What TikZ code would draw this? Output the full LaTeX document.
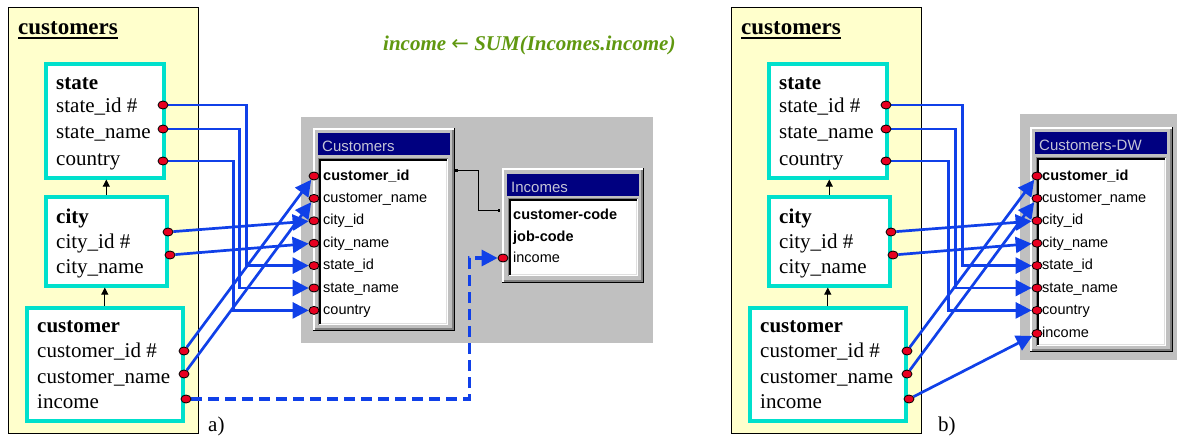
\documentclass[tikz,border=0pt]{standalone}
\usepackage{fontspec}
\setmainfont{Liberation Serif}
\newfontfamily\winfont{Liberation Sans}
\newfontfamily\arrowfont{DejaVu Sans}
\usetikzlibrary{arrows.meta,shapes.geometric}

\definecolor{paneyellow}{RGB}{255,255,204}
\definecolor{boxcyan}{RGB}{0,224,204}
\definecolor{linkblue}{RGB}{16,64,232}
\definecolor{dotred}{RGB}{232,0,32}
\definecolor{wingray}{RGB}{192,192,192}
\definecolor{windark}{RGB}{128,128,128}
\definecolor{winlight}{RGB}{223,223,223}
\definecolor{winnavy}{RGB}{0,0,128}
\definecolor{wintitle}{RGB}{196,196,214}
\definecolor{formgreen}{RGB}{96,152,16}

\pgfdeclarelayer{front}
\pgfsetlayers{main,front}

\tikzset{
  pane/.style={fill=paneyellow, draw=black, line width=0.8pt},
  entity/.style={draw=boxcyan, fill=white, line width=3.6pt, inner sep=0pt, anchor=north west},
  attr/.style={anchor=base west, inner sep=0pt, font=\fontsize{21}{25}\selectfont},
  ename/.style={anchor=base west, inner sep=0pt, font=\fontsize{21}{25}\selectfont\bfseries},
  port/.style={ellipse, draw=black, line width=0.8pt, fill=dotred,
               minimum width=10pt, minimum height=8pt, inner sep=0pt},
  link/.style={draw=linkblue, line width=2.7pt, -{Triangle[length=16pt,width=16pt]}},
  dashlink/.style={link, line width=3.2pt, dash pattern=on 11pt off 6pt},
  isa/.style={draw=black, line width=1pt, -{Triangle[length=7pt,width=7pt]}},
  rowtxt/.style={anchor=base west, inner sep=0pt, font=\winfont\fontsize{14.5}{17}\selectfont},
  relline/.style={draw=black, line width=1pt,
                  {Square[length=2.5pt,width=3pt]}-{Square[length=2.5pt,width=3pt]}},
}

% one "customers" package: the three entities with their attribute ports
\newcommand\custpanel[2]{%
\begin{scope}[xshift=#2]
  \path[pane] (8,7) rectangle (198,433);
  \node[anchor=base west, inner sep=0pt, font=\fontsize{23}{27}\selectfont\bfseries] (#1head) at (18,34.5) {customers};
  \draw[line width=2pt] ([yshift=-3.6pt]#1head.base west) -- ([yshift=-3.6pt]#1head.base east);
  \node[entity, minimum width=118pt, minimum height=114pt] (#1state) at (44,62) {};
  \node[entity, minimum width=121pt, minimum height=89pt] (#1city) at (44,195) {};
  \node[entity, minimum width=156pt, minimum height=113pt] (#1cust) at (25,306) {};
  \node[ename] at (56,90) {state};
  \node[attr] at (56,113) {state\_id \#};
  \node[attr] at (56,139) {state\_name};
  \node[attr] at (56,165) {country};
  \node[ename] at (56,223) {city};
  \node[attr] at (56,248) {city\_id \#};
  \node[attr] at (56,273) {city\_name};
  \node[ename] at (37,332) {customer};
  \node[attr] at (37,357) {customer\_id \#};
  \node[attr] at (37,383) {customer\_name};
  \node[attr] at (37,408) {income};
  \draw[isa] (#1city.north) -- (#1city.north |- #1state.south);
  \draw[isa] (#1cust.north) -- (#1cust.north |- #1city.south);
  \begin{pgfonlayer}{front}
    \node[port] (#1sid)    at (163,105) {};
    \node[port] (#1sname)  at (163,129) {};
    \node[port] (#1cty)    at (163,161) {};
    \node[port] (#1cid)    at (168,232) {};
    \node[port] (#1cname)  at (170,255) {};
    \node[port] (#1cuid)   at (184,351) {};
    \node[port] (#1cuname) at (184,374) {};
    \node[port] (#1inc)    at (186,399) {};
  \end{pgfonlayer}
\end{scope}}

% raised Windows-style frame, named as a node
\newcommand\winraised[5]{%
  \node[inner sep=0pt, outer sep=0pt, minimum width={#4-#2}, minimum height={#5-#3},
        anchor=north west, fill=wingray] (#1) at (#2,#3) {};
  \draw[white, line width=1.5pt] ({#2+0.75},{#5-1}) -- ({#2+0.75},{#3+0.75}) -- ({#4-1},{#3+0.75});
  \draw[black, line width=1.5pt] ({#2},{#5-0.75}) -- ({#4-0.75},{#5-0.75}) -- ({#4-0.75},{#3});
  \draw[windark, line width=1.5pt] ({#2+1.5},{#5-2.25}) -- ({#4-2.25},{#5-2.25}) -- ({#4-2.25},{#3+1.5});
}
% sunken white list area
\newcommand\winsunken[4]{%
  \fill[white] (#1,#2) rectangle (#3,#4);
  \draw[windark, line width=1pt] ({#1+0.5},{#4}) -- ({#1+0.5},{#2+0.5}) -- ({#3},{#2+0.5});
  \draw[black, line width=1.5pt] ({#1+1.75},{#4-1}) -- ({#1+1.75},{#2+1.75}) -- ({#3-1},{#2+1.75});
  \draw[winlight, line width=1.5pt] ({#1+2.5},{#4-1.75}) -- ({#3-1.75},{#4-1.75}) -- ({#3-1.75},{#2+2.5});
}
% navy caption bar
\newcommand\wincaption[6]{%
  \fill[winnavy] (#2,#3) rectangle (#4,#5);
  \node[rowtxt, text=wintitle, font=\winfont\fontsize{15}{18}\selectfont] (#1) at ({#2+4},{#5-3.5}) {#6};
}
% one table row: port, text
\newcommand\tblrow[5]{%
  \node[rowtxt] (#1t) at (#4,{#3+4}) {#5};
  \begin{pgfonlayer}{front}\node[port] (#1) at (#2,#3) {};\end{pgfonlayer}%
}

\begin{document}
\begin{tikzpicture}[x=1pt,y=-1pt]
\useasboundingbox (0,0) rectangle (1179,436);

\custpanel{a}{0pt}
\custpanel{b}{723pt}
\node[attr] (alabel) at (208,431) {a)};
\node[attr] (blabel) at (938,431) {b)};

\node[anchor=base west, inner sep=0pt, text=formgreen,
      font=\fontsize{21}{25}\selectfont\bfseries\itshape] (formula) at (383,51)
      {income {\arrowfont\mdseries\upshape ←} SUM(Incomes.income)};

% ---- source schema: Customers and Incomes
\fill[wingray] (301,117) rectangle (653,343);
\winraised{custwin}{313}{128}{455}{331}
\wincaption{custcap}{318}{133}{450}{155}{Customers}
\winsunken{318}{158}{448}{325}
\tblrow{Tcuid}{314}{176}{323}{\bfseries customer\_id}
\tblrow{Tcuname}{314}{198.4}{323}{customer\_name}
\tblrow{Tcid}{314}{220.8}{323}{city\_id}
\tblrow{Tcname}{314}{243.2}{323}{city\_name}
\tblrow{Tsid}{314}{265.6}{323}{state\_id}
\tblrow{Tsname}{314}{288}{323}{state\_name}
\tblrow{Tcty}{314}{310.4}{323}{country}

\winraised{incwin}{502}{168}{644}{283}
\wincaption{inccap}{507}{174}{639}{196}{Incomes}
\winsunken{508}{198}{638}{276}
\node[rowtxt, font=\winfont\fontsize{14.5}{17}\selectfont\bfseries] (Iccode) at (513,219) {customer-code};
\node[rowtxt, font=\winfont\fontsize{14.5}{17}\selectfont\bfseries] (Ijcode) at (513,241) {job-code};
\tblrow{Iinc}{503}{258}{513}{income}

\draw[relline] ([yshift=-42pt]custwin.north east) -- ++(23,0) |- ([xshift=-2pt,yshift=-42pt]incwin.north west);

% ---- warehouse table
\fill[wingray] (1020,114) rectangle (1177,360);
\winraised{dwwin}{1030}{127}{1173}{352}
\wincaption{dwcap}{1035}{132}{1167}{154}{Customers-DW}
\winsunken{1036}{157}{1166}{346}
\tblrow{Dcuid}{1037}{176}{1042}{\bfseries customer\_id}
\tblrow{Dcuname}{1037}{198.4}{1042}{customer\_name}
\tblrow{Dcid}{1037}{220.8}{1042}{city\_id}
\tblrow{Dcname}{1037}{243.2}{1042}{city\_name}
\tblrow{Dsid}{1037}{265.6}{1042}{state\_id}
\tblrow{Dsname}{1037}{288}{1042}{state\_name}
\tblrow{Dcty}{1037}{310.4}{1042}{country}
\tblrow{Dinc}{1037}{333.5}{1042}{income}

% ---- mappings a)
\draw[link] (asid.east)   -- ++(78,0) |- (Tsid.west);
\draw[link] (asname.east) -- ++(71,0) |- (Tsname.west);
\draw[link] (acty.east)   -- ++(65,0) |- (Tcty.west);
\draw[link] (acid) -- (Tcid);
\draw[link] (acname) -- (Tcname);
\draw[link] (acuid) -- (Tcuid);
\draw[link] (acuname) -- (Tcuname);
\draw[dashlink] (ainc.east) -- ++(278,0) |- (Iinc.west);

% ---- mappings b)
\draw[link] (bsid.east)   -- ++(71,0) |- (Dsid.west);
\draw[link] (bsname.east) -- ++(64,0) |- (Dsname.west);
\draw[link] (bcty.east)   -- ++(57,0) |- (Dcty.west);
\draw[link] (bcid) -- (Dcid);
\draw[link] (bcname) -- (Dcname);
\draw[link] (bcuid) -- (Dcuid);
\draw[link] (bcuname) -- (Dcuname);
\draw[link] (binc) -- (Dinc);
\end{tikzpicture}
\end{document}
